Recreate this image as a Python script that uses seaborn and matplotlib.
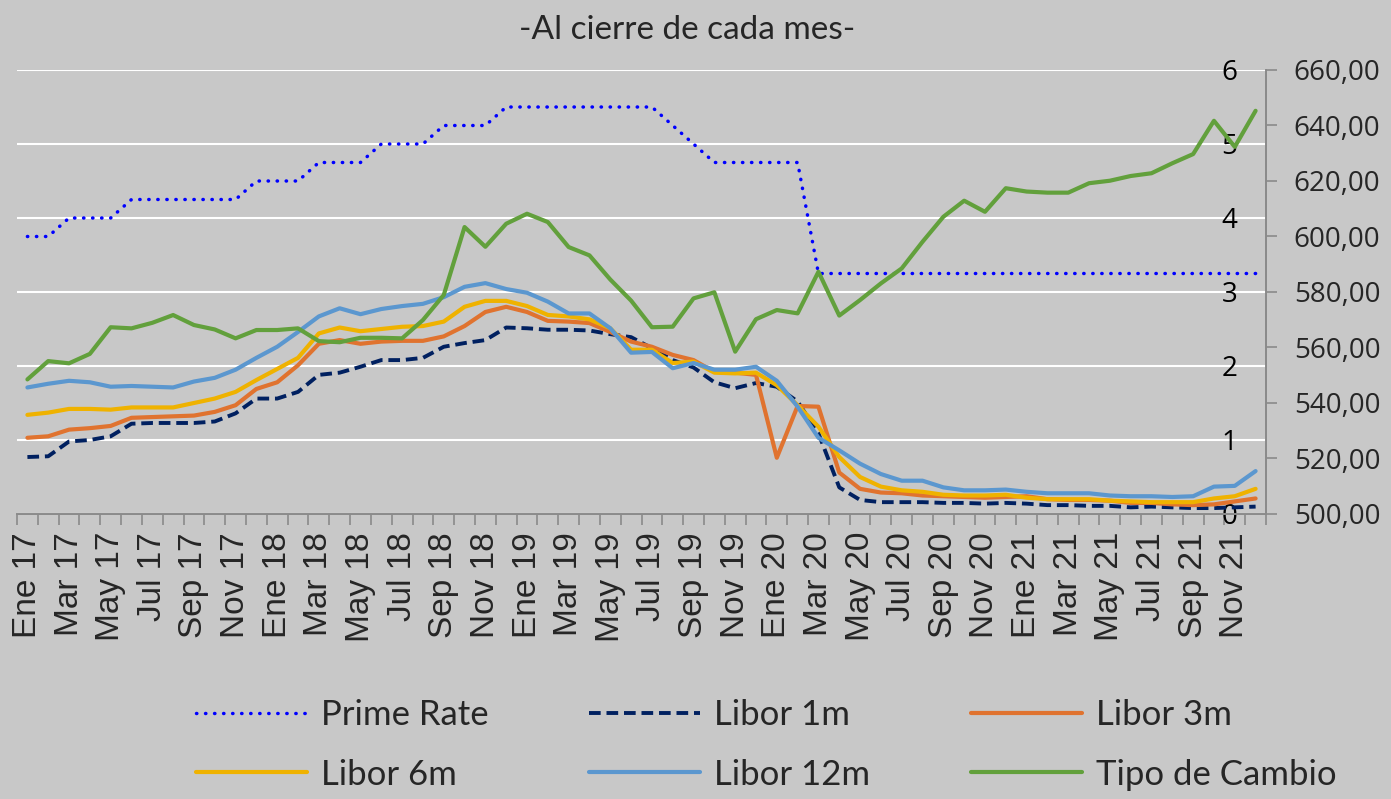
import numpy as np
import pandas as pd
import matplotlib
matplotlib.use('Agg')
import matplotlib.pyplot as plt
import seaborn as sns
from matplotlib.ticker import FuncFormatter

# month labels (Spanish), Jan 2017 - Dec 2021
meses = ['Ene', 'Feb', 'Mar', 'Abr', 'May', 'Jun', 'Jul', 'Ago', 'Sep', 'Oct', 'Nov', 'Dic']
anios = ['17', '18', '19', '20', '21']

# rates in % (month end)
prime = [3.75, 3.75, 4.00, 4.00, 4.00, 4.25, 4.25, 4.25, 4.25, 4.25,
         4.25, 4.50, 4.50, 4.50, 4.75, 4.75, 4.75, 5.00, 5.00, 5.00,
         5.25, 5.25, 5.25, 5.50, 5.50, 5.50, 5.50, 5.50, 5.50, 5.50,
         5.50, 5.25, 5.00, 4.75, 4.75, 4.75, 4.75, 4.75, 3.25, 3.25,
         3.25, 3.25, 3.25, 3.25, 3.25, 3.25, 3.25, 3.25, 3.25, 3.25,
         3.25, 3.25, 3.25, 3.25, 3.25, 3.25, 3.25, 3.25, 3.25, 3.25]
libor_1m = [0.77, 0.78, 0.98, 1.00, 1.05, 1.22, 1.23, 1.23, 1.23, 1.25,
            1.36, 1.56, 1.56, 1.65, 1.88, 1.91, 1.99, 2.08, 2.08, 2.11,
            2.26, 2.31, 2.35, 2.52, 2.51, 2.49, 2.49, 2.48, 2.43, 2.39,
            2.24, 2.08, 1.98, 1.78, 1.70, 1.77, 1.72, 1.52, 1.09, 0.36,
            0.19, 0.16, 0.16, 0.16, 0.15, 0.15, 0.14, 0.15, 0.14, 0.12,
            0.12, 0.11, 0.11, 0.09, 0.10, 0.09, 0.08, 0.08, 0.09, 0.10]
libor_3m = [1.03, 1.05, 1.14, 1.16, 1.19, 1.30, 1.31, 1.32, 1.33, 1.38,
            1.47, 1.69, 1.78, 2.01, 2.30, 2.35, 2.30, 2.33, 2.34, 2.34,
            2.40, 2.54, 2.73, 2.80, 2.73, 2.61, 2.60, 2.58, 2.46, 2.33,
            2.26, 2.15, 2.08, 1.92, 1.91, 1.88, 0.76, 1.46, 1.45, 0.56,
            0.34, 0.29, 0.28, 0.25, 0.24, 0.23, 0.22, 0.23, 0.24, 0.20,
            0.19, 0.19, 0.18, 0.15, 0.15, 0.13, 0.12, 0.13, 0.17, 0.21]
libor_6m = [1.34, 1.37, 1.42, 1.42, 1.41, 1.44, 1.44, 1.44, 1.50, 1.56,
            1.65, 1.81, 1.96, 2.11, 2.44, 2.52, 2.47, 2.50, 2.53, 2.54,
            2.60, 2.80, 2.88, 2.88, 2.81, 2.69, 2.67, 2.63, 2.51, 2.22,
            2.22, 2.04, 2.06, 1.91, 1.90, 1.91, 1.74, 1.47, 1.18, 0.77,
            0.50, 0.37, 0.32, 0.30, 0.26, 0.25, 0.25, 0.26, 0.22, 0.20,
            0.20, 0.20, 0.18, 0.17, 0.16, 0.16, 0.16, 0.21, 0.24, 0.34]
libor_12m = [1.71, 1.76, 1.80, 1.78, 1.72, 1.73, 1.72, 1.71, 1.79, 1.84,
             1.95, 2.11, 2.26, 2.46, 2.67, 2.78, 2.70, 2.77, 2.81, 2.84,
             2.93, 3.07, 3.12, 3.04, 2.99, 2.87, 2.71, 2.71, 2.51, 2.18,
             2.19, 1.97, 2.04, 1.95, 1.95, 1.99, 1.80, 1.45, 1.03, 0.86,
             0.68, 0.54, 0.45, 0.45, 0.36, 0.32, 0.32, 0.33, 0.30, 0.28,
             0.28, 0.28, 0.25, 0.24, 0.24, 0.23, 0.24, 0.37, 0.38, 0.58]
# exchange rate (right axis)
tipo_cambio = [548.5, 555.1, 554.3, 557.7, 567.3, 566.9, 568.9, 571.7, 568.1, 566.5,
               563.3, 566.3, 566.3, 566.9, 562.3, 561.9, 563.5, 563.5, 563.3, 569.9,
               578.9, 603.4, 596.3, 604.6, 608.2, 605.2, 596.2, 593.2, 584.5, 576.9,
               567.3, 567.5, 577.7, 579.9, 558.5, 570.2, 573.5, 572.3, 587.3, 571.5,
               577.1, 583.1, 588.5, 598.1, 607.1, 612.9, 608.9, 617.4, 616.2, 615.8,
               615.8, 619.2, 620.1, 621.8, 622.8, 626.4, 629.7, 641.7, 632.3, 645.3]

etiquetas = [f'{m} {a}' for a in anios for m in meses]

df = pd.DataFrame({
    'mes': range(len(etiquetas)),
    'Prime Rate': prime,
    'Libor 1m': libor_1m,
    'Libor 3m': libor_3m,
    'Libor 6m': libor_6m,
    'Libor 12m': libor_12m,
    'Tipo de Cambio': tipo_cambio,
})

sns.set_style('white')
plt.rcParams['font.family'] = ['Open Sans', 'DejaVu Sans']

bg = '#c8c8c8'
gris = '#8a8a8a'
fig = plt.figure(figsize=(13.91, 7.99), dpi=100, facecolor=bg)
ax = fig.add_axes([17 / 1391, 1 - 514 / 799, (1266 - 17) / 1391, 444 / 799])
ax.set_facecolor(bg)
ax2 = ax.twinx()

estilos = {
    'Prime Rate': dict(color='#0000ff', lw=2.5),
    'Libor 1m': dict(color='#002060', lw=2.8),
    'Libor 3m': dict(color='#e0732f', lw=3.0),
    'Libor 6m': dict(color='#efb200', lw=3.0),
    'Libor 12m': dict(color='#5b97cf', lw=3.0),
}
lineas = {}
for serie, st in estilos.items():
    sns.lineplot(data=df, x='mes', y=serie, ax=ax, legend=False, label=serie, **st)
    lineas[serie] = ax.lines[-1]

lineas['Prime Rate'].set_linestyle((0, (0.1, 2.5)))
lineas['Prime Rate'].set_dash_capstyle('round')
lineas['Libor 1m'].set_linestyle((0, (3.0, 1.5)))

sns.lineplot(data=df, x='mes', y='Tipo de Cambio', ax=ax2, legend=False,
             label='Tipo de Cambio', color='#62a03c', lw=3.0)
lineas['Tipo de Cambio'] = ax2.lines[-1]

# primary axis
ax.set_xlim(-0.5, len(etiquetas) - 0.5)
ax.set_ylim(0, 6)
ax.set_yticks(range(0, 7))
ax.yaxis.grid(True, color='white', lw=1.5)
ax.xaxis.grid(False)
ax.set_axisbelow(True)
ax.set_xlabel('')
ax.set_ylabel('')
ax.tick_params(axis='y', left=False, right=False, labelleft=False, labelright=True,
               length=0, pad=-32, labelsize=20, labelcolor='black')

ax.set_xticks(df['mes'][::2])
ax.set_xticklabels(etiquetas[::2], rotation=90, fontsize=24, family='Liberation Sans')
ax.set_xticks(np.arange(-0.5, len(etiquetas), 1), minor=True)
ax.tick_params(axis='x', which='major', length=0, pad=13)
ax.tick_params(axis='x', which='minor', length=8, width=1.2, color=gris, bottom=True)

for s in ['left', 'top', 'right']:
    ax.spines[s].set_visible(False)
ax.spines['bottom'].set_color(gris)
ax.spines['bottom'].set_linewidth(1.4)

# secondary axis
ax2.set_ylim(500, 660)
ax2.set_yticks(range(500, 661, 20))
ax2.yaxis.set_major_formatter(FuncFormatter(lambda v, p: f'{v:.2f}'.replace('.', ',')))
ax2.tick_params(axis='y', length=8, width=1.2, color=gris, pad=12, labelsize=20)
ax2.set_ylabel('')
for s in ['left', 'top', 'bottom']:
    ax2.spines[s].set_visible(False)
ax2.spines['right'].set_color(gris)
ax2.spines['right'].set_linewidth(1.4)

fig.suptitle('-Al cierre de cada mes-', x=0.494, y=1 - 30 / 799, va='center',
             fontsize=24, family='Lato')

orden = ['Prime Rate', 'Libor 6m', 'Libor 1m', 'Libor 12m', 'Libor 3m', 'Tipo de Cambio']
fig.legend([lineas[k] for k in orden], orden, ncol=3, loc='center',
           bbox_to_anchor=(0.551, 0.068), frameon=False,
           prop={'family': 'Lato', 'size': 25}, handlelength=3.2,
           handletextpad=0.4, columnspacing=2.9, labelspacing=0.8)

fig.savefig('out.png', dpi=100, facecolor=bg)
